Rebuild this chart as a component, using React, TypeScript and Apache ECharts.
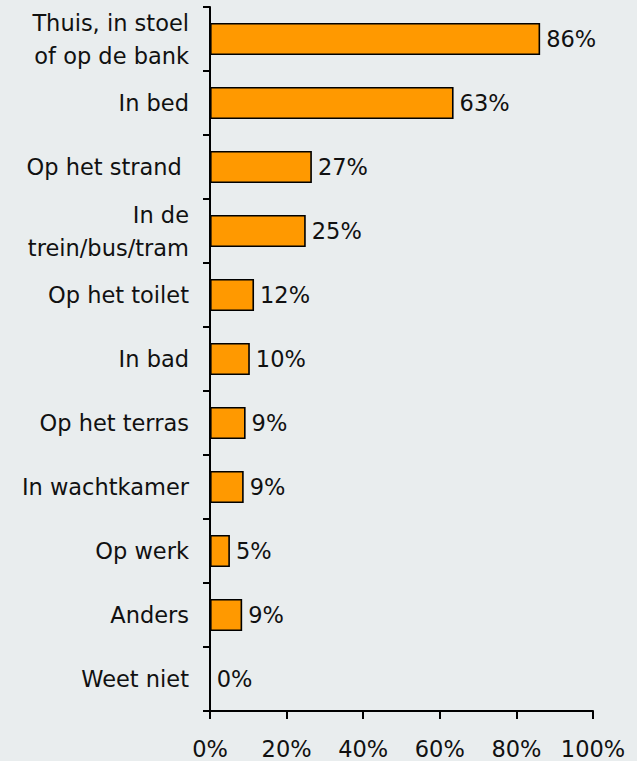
import React, { useEffect, useRef } from "react";
import * as echarts from "echarts";

const categories = [
  "Thuis, in stoel\nof op de bank",
  "In bed",
  "Op het strand ",
  "In de\ntrein/bus/tram",
  "Op het toilet",
  "In bad",
  "Op het terras",
  "In wachtkamer",
  "Op werk",
  "Anders",
  "Weet niet",
];
const barValues = [86.2, 63.6, 26.6, 25.0, 11.5, 10.4, 9.3, 8.8, 5.2, 8.4, 0];
const valueLabels = ["86%", "63%", "27%", "25%", "12%", "10%", "9%", "9%", "5%", "9%", "0%"];
const xTicks = [0, 20, 40, 60, 80, 100];

export default function App() {
  const ref = useRef<HTMLDivElement>(null);
  useEffect(() => {
    if (!ref.current) return;
    const chart = echarts.init(ref.current, undefined, { renderer: "svg" });
    const font = "DejaVu Sans";
    chart.setOption({
      animation: false,
      backgroundColor: "#E9EDEE",
      grid: { left: 210, right: 44, top: 7, bottom: 50, containLabel: false },
      xAxis: {
        type: "value",
        min: 0,
        max: 100,
        interval: 20,
        splitLine: { show: false },
        axisLine: { show: true, lineStyle: { color: "#000", width: 2 } },
        axisTick: { show: true, length: 8, lineStyle: { color: "#000", width: 2 } },
        axisLabel: {
          margin: 26,
          fontFamily: font,
          fontSize: 22.5,
          color: "#111",
          formatter: (v: number) => (xTicks.includes(v) ? v + "%" : ""),
        },
      },
      yAxis: {
        type: "category",
        data: categories,
        inverse: true,
        axisLine: { show: true, lineStyle: { color: "#000", width: 2 } },
        axisTick: { show: true, length: 7, alignWithLabel: false, lineStyle: { color: "#000", width: 2 } },
        axisLabel: {
          margin: 21,
          fontFamily: font,
          fontSize: 22.5,
          lineHeight: 33,
          color: "#111",
          align: "right",
        },
        splitLine: { show: false },
      },
      series: [
        {
          type: "bar",
          data: barValues,
          barWidth: "50%",
          itemStyle: { color: "#FF9900", borderColor: "#000", borderWidth: 1.6 },
          label: {
            show: true,
            position: "right",
            distance: 6,
            fontFamily: font,
            fontSize: 22.5,
            color: "#111",
            formatter: (p: any) => valueLabels[p.dataIndex],
          },
        },
      ],
    });
    return () => chart.dispose();
  }, []);
  return <div ref={ref} style={{ width: 637, height: 761, position: "fixed", left: 0, top: 0 }} />;
}
